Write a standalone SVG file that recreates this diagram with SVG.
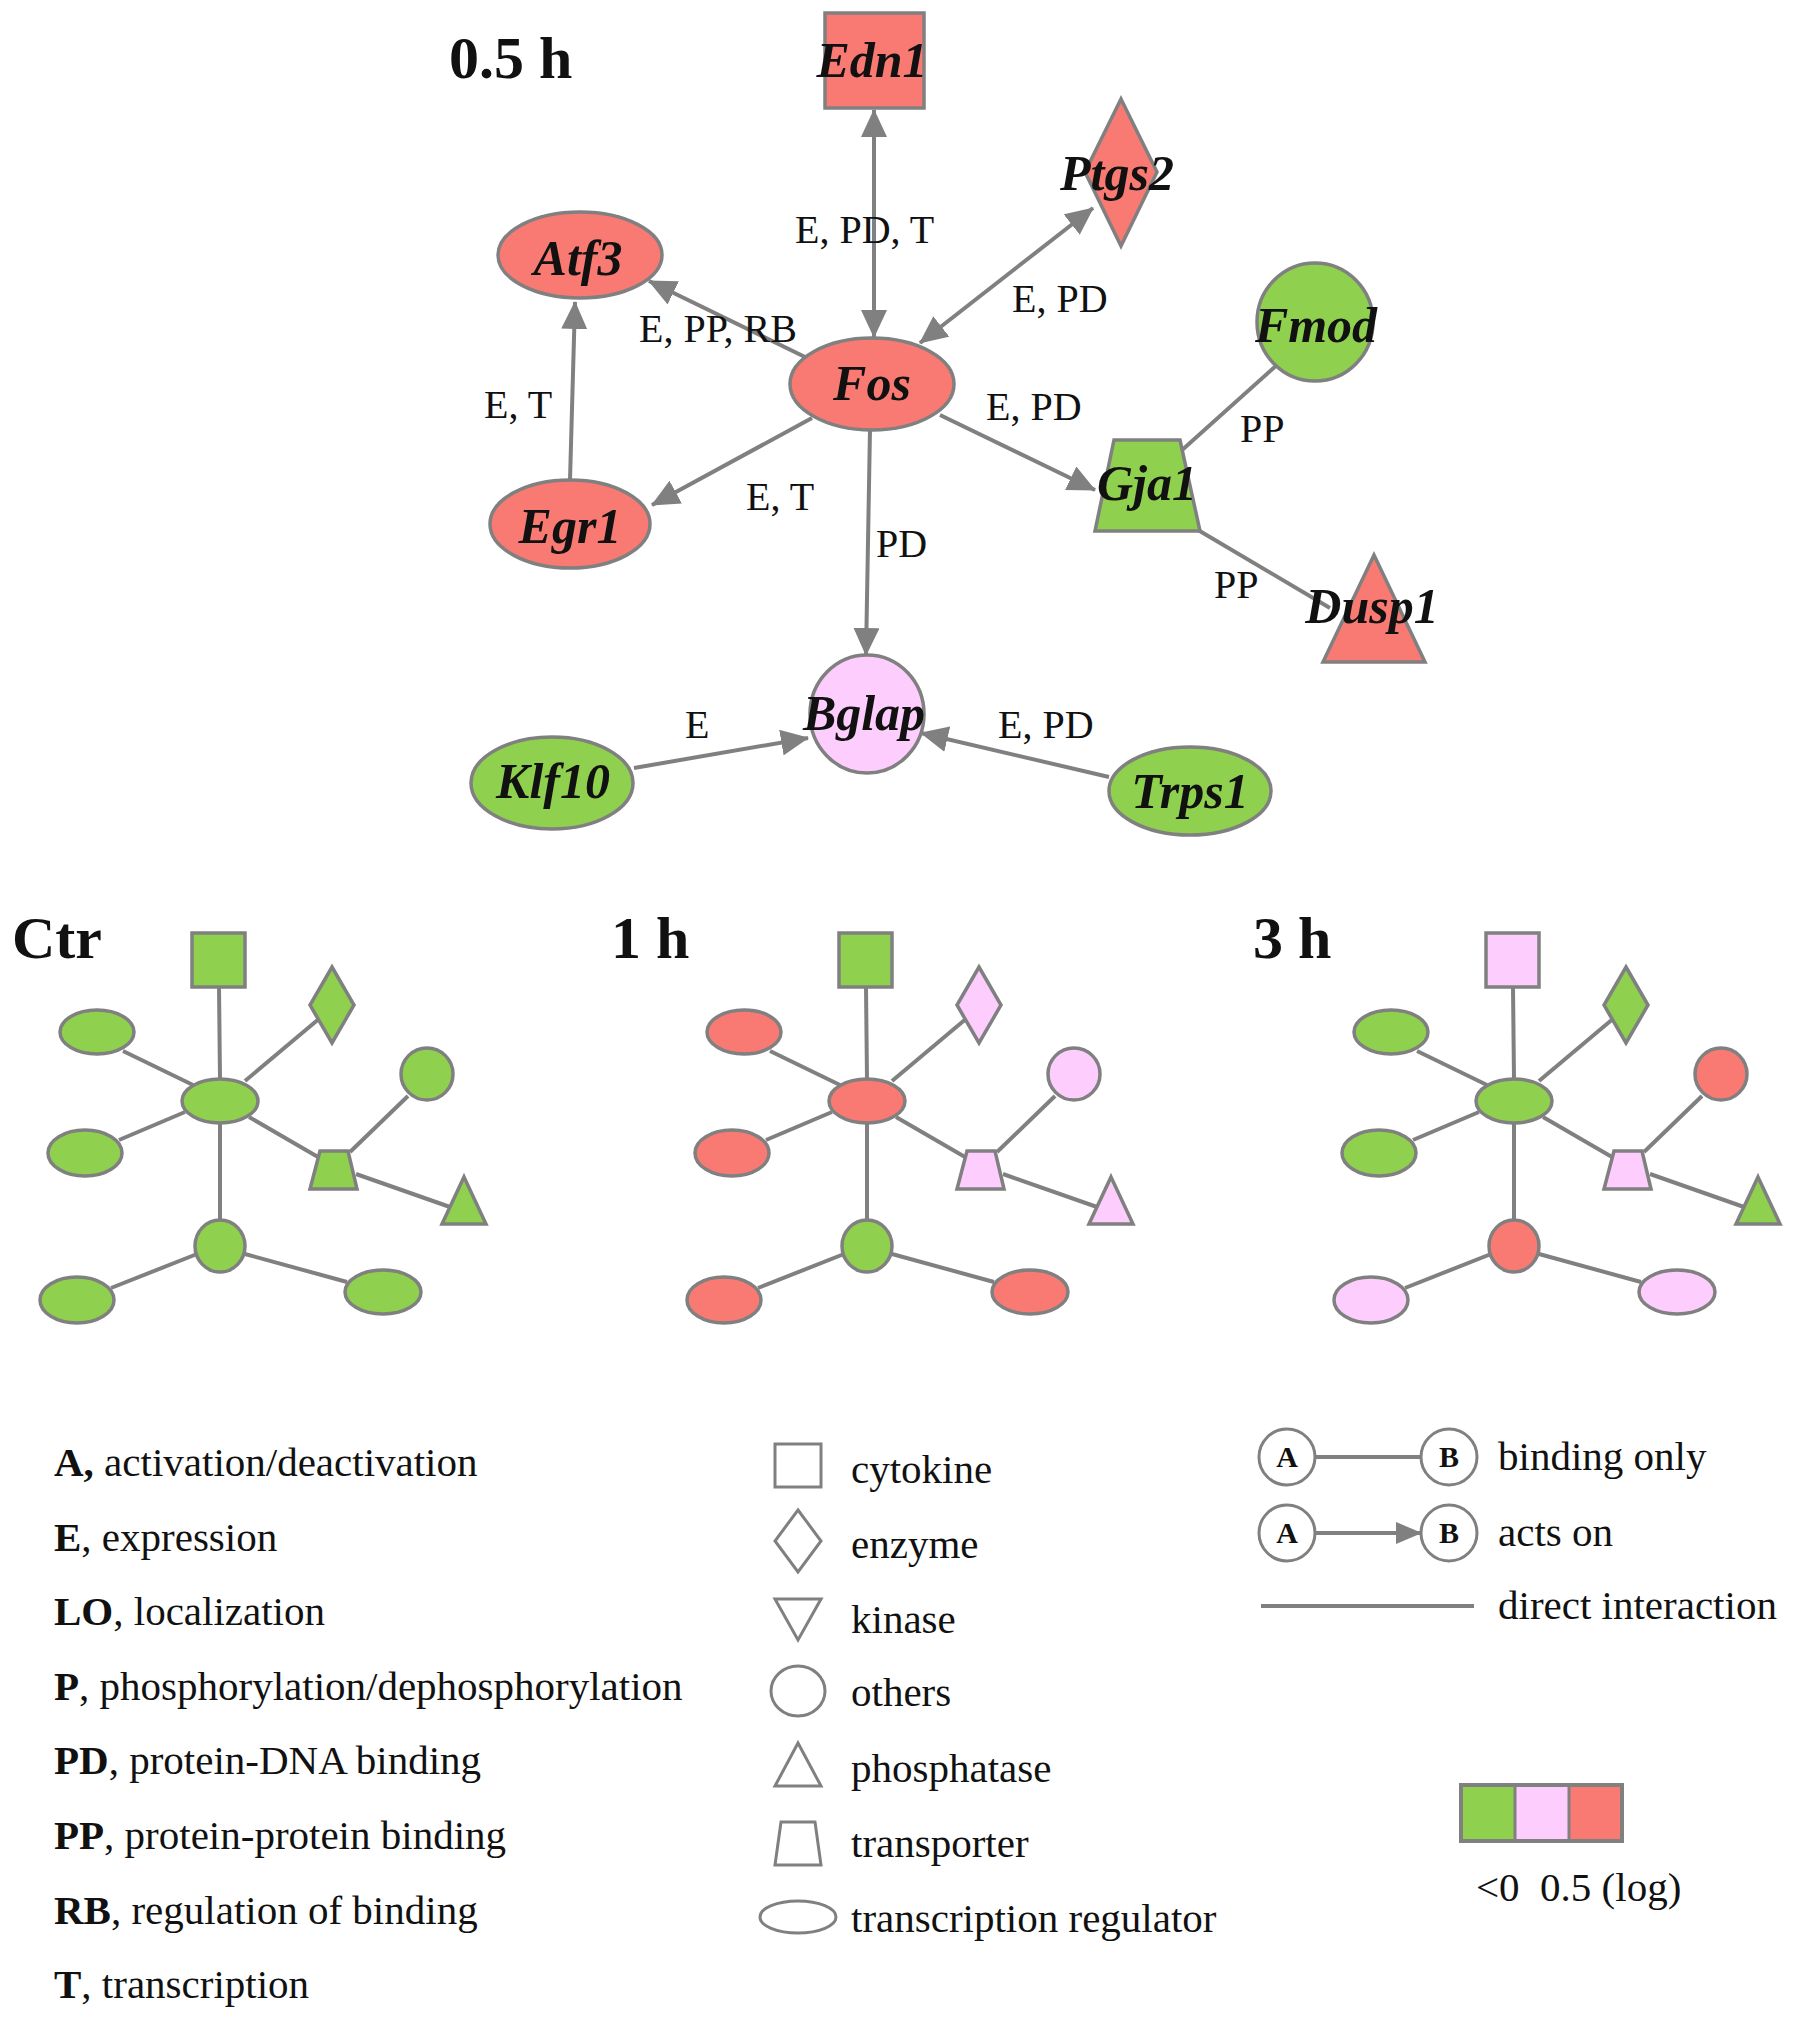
<svg xmlns="http://www.w3.org/2000/svg" width="1795" height="2022" viewBox="0 0 1795 2022">
<style>
  text{font-family:"Liberation Serif","Times New Roman",serif;fill:#111}
  .h{font-size:60px;font-weight:bold}
  .nl{font-size:50px;font-weight:bold;font-style:italic;text-anchor:middle}
  .el{font-size:40px}
  .lg{font-size:41px}
  .ab{font-size:30px;font-weight:bold;text-anchor:middle}
  .r{fill:#f97a72;stroke:#808080;stroke-width:3.5}
  .g{fill:#8fd04f;stroke:#808080;stroke-width:3.5}
  .p{fill:#fdcdfd;stroke:#808080;stroke-width:3.5}
  .o{fill:none;stroke:#808080;stroke-width:3}
  .e{stroke:#808080;stroke-width:4;fill:none}
  .a{marker-end:url(#ah)}
  .b{marker-start:url(#ah);marker-end:url(#ah)}
</style>
<defs>
  <marker id="ah" viewBox="0 0 28 26" refX="27" refY="13" markerWidth="28" markerHeight="26" markerUnits="userSpaceOnUse" orient="auto-start-reverse">
    <path d="M0,0 L28,13 L0,26 z" fill="#808080"/>
  </marker>
  <marker id="ahs" viewBox="0 0 26 22" refX="25" refY="11" markerWidth="26" markerHeight="22" markerUnits="userSpaceOnUse" orient="auto">
    <path d="M0,0 L26,11 L0,22 z" fill="#808080"/>
  </marker>
</defs>
<rect width="1795" height="2022" fill="#fff"/>

<!-- ===== 0.5 h main network ===== -->
<text class="h" x="449" y="78">0.5 h</text>
<g id="main-edges">
  <line class="e b" x1="874" y1="110" x2="874" y2="337"/>
  <line class="e b" x1="920" y1="343" x2="1093" y2="208"/>
  <line class="e a" x1="805" y1="357" x2="649" y2="281"/>
  <line class="e a" x1="570" y1="480" x2="575" y2="302"/>
  <line class="e a" x1="812" y1="418" x2="652" y2="505"/>
  <line class="e a" x1="940" y1="415" x2="1095" y2="490"/>
  <line class="e a" x1="870" y1="429" x2="866" y2="655"/>
  <line class="e" x1="1278" y1="364" x2="1181" y2="451"/>
  <line class="e" x1="1198" y1="530" x2="1330" y2="608"/>
  <line class="e a" x1="634" y1="768" x2="808" y2="738"/>
  <line class="e a" x1="1109" y1="777" x2="921" y2="733"/>
  <text class="el" x="795" y="243">E, PD, T</text>
  <text class="el" x="1012" y="312">E, PD</text>
  <text class="el" x="639" y="342">E, PP, RB</text>
  <text class="el" x="484" y="418">E, T</text>
  <text class="el" x="986" y="420">E, PD</text>
  <text class="el" x="1240" y="442">PP</text>
  <text class="el" x="746" y="510">E, T</text>
  <text class="el" x="876" y="557">PD</text>
  <text class="el" x="1214" y="598">PP</text>
  <text class="el" x="685" y="738">E</text>
  <text class="el" x="998" y="738">E, PD</text>
</g>
<g id="Edn1"><rect class="r" x="825" y="13" width="99" height="95"/><text class="nl" x="872" y="77">Edn1</text></g>
<g id="Ptgs2"><polygon class="r" points="1121,99 1157,172 1121,246 1085,172"/><text class="nl" x="1117" y="190">Ptgs2</text></g>
<g id="Atf3"><ellipse class="r" cx="580" cy="255" rx="82" ry="43"/><text class="nl" x="578" y="275">Atf3</text></g>
<g id="Fos"><ellipse class="r" cx="872" cy="384" rx="82" ry="46"/><text class="nl" x="872" y="400">Fos</text></g>
<g id="Fmod"><ellipse class="g" cx="1315" cy="322" rx="58" ry="59"/><text class="nl" x="1316" y="342">Fmod</text></g>
<g id="Gja1"><polygon class="g" points="1114,440 1180,440 1200,531 1095,531"/><text class="nl" x="1147" y="500">Gja1</text></g>
<g id="Dusp1"><polygon class="r" points="1374,555 1425,662 1323,662"/><text class="nl" x="1372" y="623">Dusp1</text></g>
<g id="Egr1"><ellipse class="r" cx="570" cy="524" rx="80" ry="44"/><text class="nl" x="570" y="543">Egr1</text></g>
<g id="Bglap"><ellipse class="p" cx="867" cy="714" rx="57" ry="59"/><text class="nl" x="864" y="730">Bglap</text></g>
<g id="Klf10"><ellipse class="g" cx="552" cy="783" rx="81" ry="46"/><text class="nl" x="553" y="798">Klf10</text></g>
<g id="Trps1"><ellipse class="g" cx="1190" cy="791" rx="81" ry="44"/><text class="nl" x="1190" y="808">Trps1</text></g>

<!-- ===== small networks ===== -->
<g id="small-edges">
  <g id="edges-ctr">
    <line class="e" x1="219" y1="987" x2="220" y2="1079"/>
    <line class="e" x1="320" y1="1018" x2="245" y2="1081"/>
    <line class="e" x1="123" y1="1051" x2="193" y2="1085"/>
    <line class="e" x1="119" y1="1140" x2="185" y2="1112"/>
    <line class="e" x1="249" y1="1117" x2="318" y2="1157"/>
    <line class="e" x1="408" y1="1096" x2="350" y2="1152"/>
    <line class="e" x1="356" y1="1174" x2="450" y2="1207"/>
    <line class="e" x1="220" y1="1123" x2="220" y2="1220"/>
    <line class="e" x1="197" y1="1254" x2="111" y2="1288"/>
    <line class="e" x1="245" y1="1254" x2="347" y2="1282"/>
  </g>
  <g id="edges-1h" transform="translate(647,0)">
    <line class="e" x1="219" y1="987" x2="220" y2="1079"/>
    <line class="e" x1="320" y1="1018" x2="245" y2="1081"/>
    <line class="e" x1="123" y1="1051" x2="193" y2="1085"/>
    <line class="e" x1="119" y1="1140" x2="185" y2="1112"/>
    <line class="e" x1="249" y1="1117" x2="318" y2="1157"/>
    <line class="e" x1="408" y1="1096" x2="350" y2="1152"/>
    <line class="e" x1="356" y1="1174" x2="450" y2="1207"/>
    <line class="e" x1="220" y1="1123" x2="220" y2="1220"/>
    <line class="e" x1="197" y1="1254" x2="111" y2="1288"/>
    <line class="e" x1="245" y1="1254" x2="347" y2="1282"/>
  </g>
  <g id="edges-3h" transform="translate(1294,0)">
    <line class="e" x1="219" y1="987" x2="220" y2="1079"/>
    <line class="e" x1="320" y1="1018" x2="245" y2="1081"/>
    <line class="e" x1="123" y1="1051" x2="193" y2="1085"/>
    <line class="e" x1="119" y1="1140" x2="185" y2="1112"/>
    <line class="e" x1="249" y1="1117" x2="318" y2="1157"/>
    <line class="e" x1="408" y1="1096" x2="350" y2="1152"/>
    <line class="e" x1="356" y1="1174" x2="450" y2="1207"/>
    <line class="e" x1="220" y1="1123" x2="220" y2="1220"/>
    <line class="e" x1="197" y1="1254" x2="111" y2="1288"/>
    <line class="e" x1="245" y1="1254" x2="347" y2="1282"/>
  </g>
</g>

<g id="ctr">
  <text class="h" x="12" y="958">Ctr</text>
  <rect class="g" x="192" y="933" width="53" height="54"/>
  <polygon class="g" points="332,967 354,1005 332,1043 310,1005"/>
  <ellipse class="g" cx="97" cy="1032" rx="37" ry="22"/>
  <ellipse class="g" cx="220" cy="1101" rx="38" ry="22"/>
  <ellipse class="g" cx="85" cy="1153" rx="37" ry="23"/>
  <ellipse class="g" cx="427" cy="1074" rx="26" ry="26"/>
  <polygon class="g" points="320,1151 348,1151 357,1189 310,1189"/>
  <polygon class="g" points="464,1177 486,1224 442,1224"/>
  <ellipse class="g" cx="220" cy="1246" rx="25" ry="26"/>
  <ellipse class="g" cx="77" cy="1300" rx="37" ry="23"/>
  <ellipse class="g" cx="383" cy="1292" rx="38" ry="22"/>
</g>
<g id="h1" transform="translate(647,0)">
  <text class="h" x="-36" y="958">1 h</text>
  <rect class="g" x="192" y="933" width="53" height="54"/>
  <polygon class="p" points="332,967 354,1005 332,1043 310,1005"/>
  <ellipse class="r" cx="97" cy="1032" rx="37" ry="22"/>
  <ellipse class="r" cx="220" cy="1101" rx="38" ry="22"/>
  <ellipse class="r" cx="85" cy="1153" rx="37" ry="23"/>
  <ellipse class="p" cx="427" cy="1074" rx="26" ry="26"/>
  <polygon class="p" points="320,1151 348,1151 357,1189 310,1189"/>
  <polygon class="p" points="464,1177 486,1224 442,1224"/>
  <ellipse class="g" cx="220" cy="1246" rx="25" ry="26"/>
  <ellipse class="r" cx="77" cy="1300" rx="37" ry="23"/>
  <ellipse class="r" cx="383" cy="1292" rx="38" ry="22"/>
</g>
<g id="h3" transform="translate(1294,0)">
  <text class="h" x="-41" y="958">3 h</text>
  <rect class="p" x="192" y="933" width="53" height="54"/>
  <polygon class="g" points="332,967 354,1005 332,1043 310,1005"/>
  <ellipse class="g" cx="97" cy="1032" rx="37" ry="22"/>
  <ellipse class="g" cx="220" cy="1101" rx="38" ry="22"/>
  <ellipse class="g" cx="85" cy="1153" rx="37" ry="23"/>
  <ellipse class="r" cx="427" cy="1074" rx="26" ry="26"/>
  <polygon class="p" points="320,1151 348,1151 357,1189 310,1189"/>
  <polygon class="g" points="464,1177 486,1224 442,1224"/>
  <ellipse class="r" cx="220" cy="1246" rx="25" ry="26"/>
  <ellipse class="p" cx="77" cy="1300" rx="37" ry="23"/>
  <ellipse class="p" cx="383" cy="1292" rx="38" ry="22"/>
</g>

<!-- ===== legend: relation codes ===== -->
<g id="legend-codes">
  <text class="lg" x="54" y="1476"><tspan font-weight="bold">A,</tspan> activation/deactivation</text>
  <text class="lg" x="54" y="1551"><tspan font-weight="bold">E</tspan>, expression</text>
  <text class="lg" x="54" y="1625"><tspan font-weight="bold">LO</tspan>, localization</text>
  <text class="lg" x="54" y="1700"><tspan font-weight="bold">P</tspan>, phosphorylation/dephosphorylation</text>
  <text class="lg" x="54" y="1774"><tspan font-weight="bold">PD</tspan>, protein-DNA binding</text>
  <text class="lg" x="54" y="1849"><tspan font-weight="bold">PP</tspan>, protein-protein binding</text>
  <text class="lg" x="54" y="1924"><tspan font-weight="bold">RB</tspan>, regulation of binding</text>
  <text class="lg" x="54" y="1998"><tspan font-weight="bold">T</tspan>, transcription</text>
</g>

<!-- ===== legend: shapes ===== -->
<g id="legend-shapes">
  <rect class="o" x="775" y="1444" width="46" height="43"/>
  <polygon class="o" points="798,1510 821,1541 798,1572 775,1541"/>
  <polygon class="o" points="775,1599 821,1599 798,1640"/>
  <ellipse class="o" cx="798" cy="1691" rx="27" ry="25"/>
  <polygon class="o" points="798,1743 821,1786 775,1786"/>
  <polygon class="o" points="781,1822 815,1822 821,1865 775,1865"/>
  <ellipse class="o" cx="798" cy="1917" rx="38" ry="16"/>
  <text class="lg" x="851" y="1483">cytokine</text>
  <text class="lg" x="851" y="1558">enzyme</text>
  <text class="lg" x="851" y="1633">kinase</text>
  <text class="lg" x="851" y="1706">others</text>
  <text class="lg" x="851" y="1782">phosphatase</text>
  <text class="lg" x="851" y="1857">transporter</text>
  <text class="lg" x="851" y="1932">transcription regulator</text>
</g>

<!-- ===== legend: edge types ===== -->
<g id="legend-edges">
  <line class="e" x1="1315" y1="1457" x2="1421" y2="1457" stroke-width="3"/>
  <line class="e" x1="1315" y1="1533" x2="1421" y2="1533" stroke-width="3" marker-end="url(#ahs)"/>
  <line class="e" x1="1261" y1="1606" x2="1474" y2="1606" stroke-width="3"/>
  <circle class="o" cx="1287" cy="1457" r="28"/>
  <circle class="o" cx="1449" cy="1457" r="28"/>
  <circle class="o" cx="1287" cy="1533" r="28"/>
  <circle class="o" cx="1449" cy="1533" r="28"/>
  <text class="ab" x="1287" y="1467">A</text>
  <text class="ab" x="1449" y="1467">B</text>
  <text class="ab" x="1287" y="1543">A</text>
  <text class="ab" x="1449" y="1543">B</text>
  <text class="lg" x="1498" y="1470">binding only</text>
  <text class="lg" x="1498" y="1546">acts on</text>
  <text class="lg" x="1498" y="1619">direct interaction</text>
</g>

<!-- ===== legend: colour scale ===== -->
<g id="legend-colors">
  <rect x="1461" y="1785" width="54" height="56" fill="#8fd04f"/>
  <rect x="1515" y="1785" width="54" height="56" fill="#fdcdfd"/>
  <rect x="1569" y="1785" width="53" height="56" fill="#f97a72"/>
  <line x1="1515" y1="1785" x2="1515" y2="1841" stroke="#808080" stroke-width="3"/>
  <line x1="1569" y1="1785" x2="1569" y2="1841" stroke="#808080" stroke-width="3"/>
  <rect x="1461" y="1785" width="161" height="56" fill="none" stroke="#808080" stroke-width="4"/>
  <text class="lg" x="1476" y="1901" xml:space="preserve">&lt;0  0.5 (log)</text>
</g>
</svg>
